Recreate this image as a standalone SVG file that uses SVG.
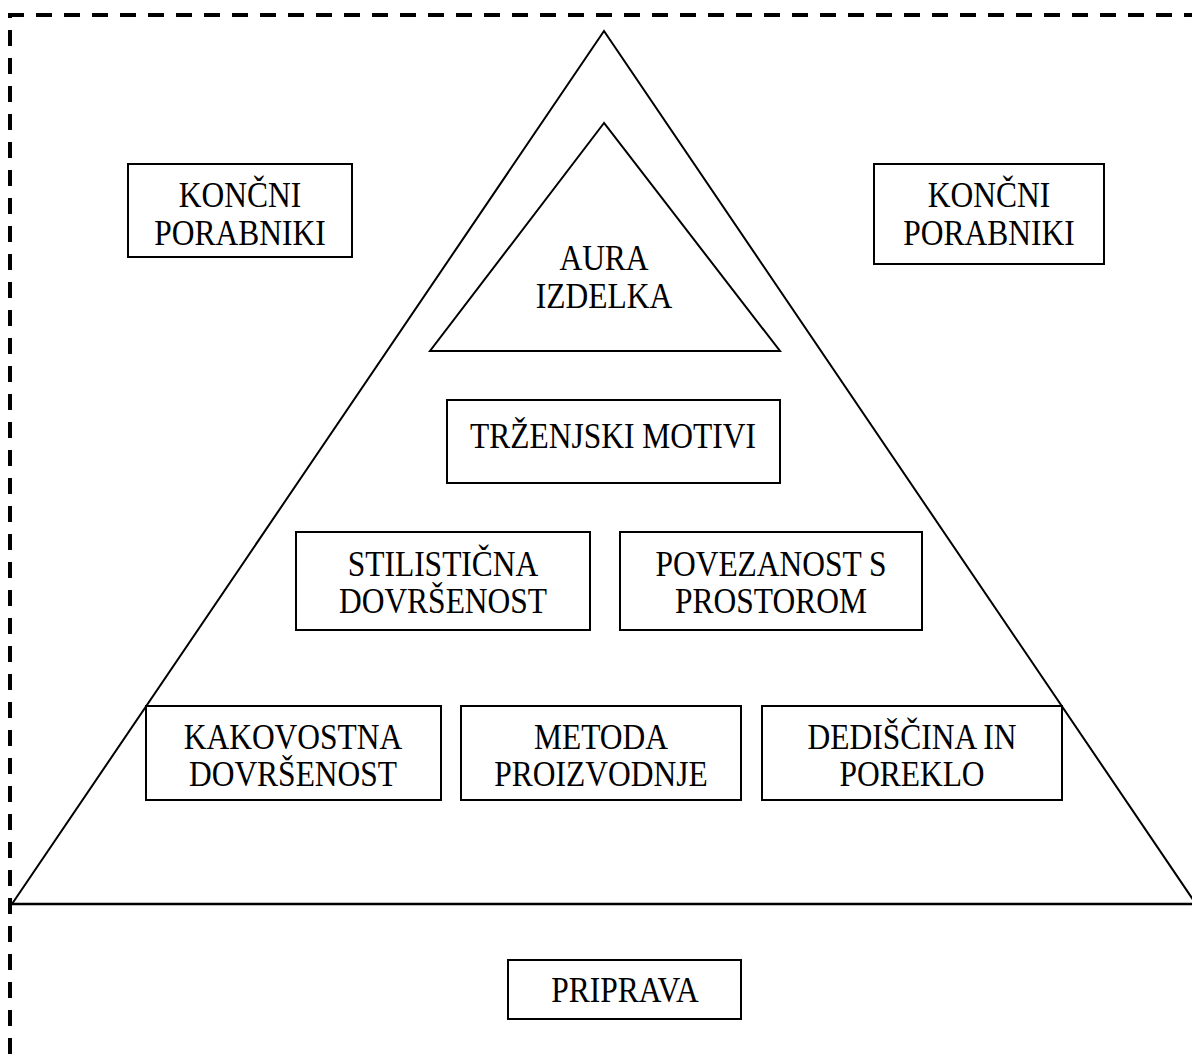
<svg xmlns="http://www.w3.org/2000/svg" width="1192" height="1064" viewBox="0 0 1192 1064">
<style>
.box{fill:none;stroke:#000;stroke-width:2}
.tri{fill:none;stroke:#000;stroke-width:2;stroke-linejoin:miter}
.lbl{font-family:"Liberation Serif","Times New Roman",serif;font-size:35px;fill:#000;text-anchor:middle}
.dash{stroke:#000;stroke-width:4;stroke-dasharray:16 12;fill:none}
</style>
<rect width="1192" height="1064" fill="#fff"/>
<g id="frame">
<line class="dash" x1="8" y1="15" x2="1192" y2="15"/>
<line class="dash" x1="10" y1="13" x2="10" y2="1064" stroke-dashoffset="11"/>
</g>
<g id="pyramid">
<polygon class="tri" points="604,31 12,904 1196,904"/>
<line x1="10" y1="904" x2="1192" y2="904" stroke="#000" stroke-width="2.5"/>
</g>
<g id="aura">
<polygon class="tri" points="604,123 430,351 780,351"/>
<text class="lbl" transform="translate(604 270) scale(0.9 1)">AURA</text>
<text class="lbl" transform="translate(604 308) scale(0.9 1)">IZDELKA</text>
</g>
<g id="koncni-left">
<rect class="box" x="128" y="164" width="224" height="93"/>
<text class="lbl" transform="translate(240 207) scale(0.9 1)">KONČNI</text>
<text class="lbl" transform="translate(240 245) scale(0.9 1)">PORABNIKI</text>
</g>
<g id="koncni-right">
<rect class="box" x="874" y="164" width="230" height="100"/>
<text class="lbl" transform="translate(989 207) scale(0.9 1)">KONČNI</text>
<text class="lbl" transform="translate(989 245) scale(0.9 1)">PORABNIKI</text>
</g>
<g id="trzenjski">
<rect class="box" x="447" y="400" width="333" height="83"/>
<text class="lbl" transform="translate(613 448) scale(0.9 1)">TRŽENJSKI MOTIVI</text>
</g>
<g id="stilisticna">
<rect class="box" x="296" y="532" width="294" height="98"/>
<text class="lbl" transform="translate(443 576) scale(0.9 1)">STILISTIČNA</text>
<text class="lbl" transform="translate(443 613) scale(0.9 1)">DOVRŠENOST</text>
</g>
<g id="povezanost">
<rect class="box" x="620" y="532" width="302" height="98"/>
<text class="lbl" transform="translate(771 576) scale(0.9 1)">POVEZANOST S</text>
<text class="lbl" transform="translate(771 613) scale(0.9 1)">PROSTOROM</text>
</g>
<g id="kakovostna">
<rect class="box" x="146" y="706" width="295" height="94"/>
<text class="lbl" transform="translate(293 749) scale(0.9 1)">KAKOVOSTNA</text>
<text class="lbl" transform="translate(293 786) scale(0.9 1)">DOVRŠENOST</text>
</g>
<g id="metoda">
<rect class="box" x="461" y="706" width="280" height="94"/>
<text class="lbl" transform="translate(601 749) scale(0.9 1)">METODA</text>
<text class="lbl" transform="translate(601 786) scale(0.9 1)">PROIZVODNJE</text>
</g>
<g id="dediscina">
<rect class="box" x="762" y="706" width="300" height="94"/>
<text class="lbl" transform="translate(912 749) scale(0.9 1)">DEDIŠČINA IN</text>
<text class="lbl" transform="translate(912 786) scale(0.9 1)">POREKLO</text>
</g>
<g id="priprava">
<rect class="box" x="508" y="960" width="233" height="59"/>
<text class="lbl" transform="translate(625 1002) scale(0.9 1)">PRIPRAVA</text>
</g>
<g id="connectors"></g>
</svg>
